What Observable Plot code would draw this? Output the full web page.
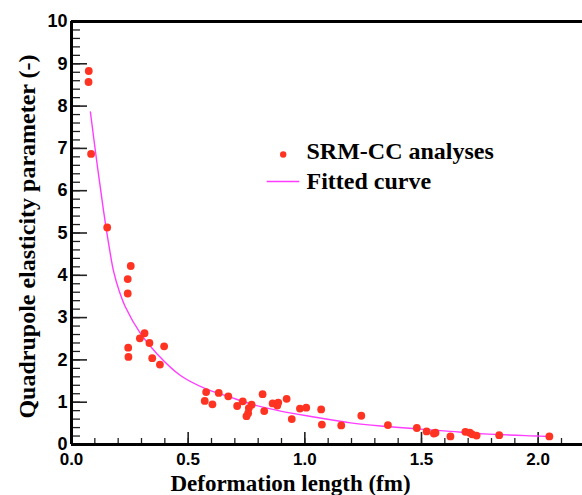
<!DOCTYPE html>
<html>
<head>
<meta charset="utf-8">
<script src="https://cdn.jsdelivr.net/npm/d3@7"></script>
<script src="https://cdn.jsdelivr.net/npm/@observablehq/plot@0.6"></script>
<style>
  html, body { margin: 0; padding: 0; background: #fff; }
</style>
</head>
<body>
<div id="chart"></div>
<script>
// SRM-CC analyses (deformation length fm, quadrupole elasticity parameter)
const pointX = [0.074, 0.073, 0.084, 0.153, 0.254, 0.241, 0.241, 0.313, 0.293, 0.334, 0.397, 0.243, 0.244, 0.346, 0.379,
  0.577, 0.571, 0.604, 0.631, 0.672, 0.710, 0.734, 0.772, 0.760, 0.757, 0.750, 0.819, 0.826, 0.862, 0.886, 0.882, 0.922,
  0.944, 0.979, 1.006, 1.070, 1.073, 1.156, 1.242, 1.356, 1.480, 1.522, 1.553, 1.560, 1.624, 1.688, 1.707, 1.717, 1.736,
  1.833, 2.048];
const pointY = [8.83, 8.57, 6.87, 5.13, 4.22, 3.91, 3.57, 2.63, 2.51, 2.40, 2.32, 2.29, 2.07, 2.04, 1.89,
  1.24, 1.03, 0.95, 1.22, 1.14, 0.91, 1.02, 0.94, 0.86, 0.74, 0.67, 1.19, 0.79, 0.97, 0.99, 0.92, 1.08,
  0.60, 0.85, 0.87, 0.83, 0.47, 0.45, 0.68, 0.46, 0.39, 0.31, 0.26, 0.28, 0.19, 0.30, 0.28, 0.24, 0.21,
  0.22, 0.19];

// Fitted curve
const curveX = [0.081, 0.110, 0.138, 0.163, 0.181, 0.205, 0.231, 0.296, 0.367, 0.467, 0.574, 0.681, 0.767, 0.896, 1.039,
  1.196, 1.339, 1.482, 1.624, 1.767, 1.996, 2.045];
const curveY = [7.86, 6.62, 5.50, 4.62, 4.08, 3.62, 3.25, 2.62, 2.14, 1.63, 1.32, 1.12, 0.96, 0.79, 0.65,
  0.51, 0.43, 0.37, 0.31, 0.25, 0.20, 0.19];

const xMajor = [0, 0.5, 1.0, 1.5, 2.0];
const xMinor = d3.range(0, 22).map(i => i / 10);
const xTickLabels = ["0.0", "0.5", "1.0", "1.5", "2.0"];
const yMajor = d3.range(0, 11);
const yMinor = d3.range(0, 51).map(i => i / 5);
const yTickLabels = yMajor.map(String);

const xTitle = "Deformation length (fm)";
const yTitle = "Quadrupole elasticity parameter (-)";
const legendLabels = ["SRM-CC analyses", "Fitted curve"];

const points = pointX.map((x, i) => ({x, y: pointY[i]}));
const curve = curveX.map((x, i) => ({x, y: curveY[i]}));

const W = 582, H = 495;
const mL = 71, mT = 21, mB = 51, mR = 0;
const plotW = W - mL - mR, plotH = H - mT - mB;
const xMax = 2.19;

const sans = "'Liberation Sans', Arial, Helvetica, sans-serif";
const serif = "'Liberation Serif', 'Times New Roman', serif";
const dotColor = "#ff3322";
const lineColor = "#ff3cff";

const chart = Plot.plot({
  width: W,
  height: H,
  marginLeft: mL,
  marginTop: mT,
  marginBottom: mB,
  marginRight: mR,
  x: {domain: [0, xMax], axis: null},
  y: {domain: [0, 10], axis: null},
  style: {background: "#fff", overflow: "visible"},
  marks: [
    // minor & major ticks on x (pointing up into the plot)
    Plot.ruleX(xMinor, {x: d => d, y1: 10, y2: 0, insetTop: plotH - 6, stroke: "#222", strokeWidth: 1.3}),
    Plot.ruleX(xMajor, {x: d => d, y1: 10, y2: 0, insetTop: plotH - 12, stroke: "#222", strokeWidth: 1.6}),
    // minor & major ticks on y (pointing right)
    Plot.ruleY(yMinor, {y: d => d, x1: 0, x2: xMax, insetRight: plotW - 9, stroke: "#222", strokeWidth: 1.3}),
    Plot.ruleY(yMajor, {y: d => d, x1: 0, x2: xMax, insetRight: plotW - 16, stroke: "#222", strokeWidth: 1.6}),
    // frame lines
    Plot.ruleX([0], {stroke: "#000", strokeWidth: 3}),
    Plot.ruleY([0], {stroke: "#000", strokeWidth: 3}),
    Plot.ruleY([10], {stroke: "#000", strokeWidth: 3}),
    // tick labels
    Plot.text(yMajor, {x: 0, y: d => d, text: (d, i) => yTickLabels[i], textAnchor: "end", dx: -4, lineAnchor: "middle",
      fontSize: 18, fontWeight: "bold", fontFamily: sans, fill: "#000"}),
    Plot.text(xMajor, {x: d => d, y: 0, text: (d, i) => xTickLabels[i], textAnchor: "middle", dy: 8, lineAnchor: "top",
      fontSize: 17, fontWeight: "bold", fontFamily: sans, fill: "#000"}),
    // data
    Plot.line(curve, {x: "x", y: "y", stroke: lineColor, strokeWidth: 1.4, curve: "catmull-rom"}),
    Plot.dot(points, {x: "x", y: "y", r: 3.9, fill: dotColor, stroke: "none"}),
    // axis titles
    Plot.text([xTitle], {frameAnchor: "bottom-left", dx: 290 - mL, dy: 46, textAnchor: "middle", lineAnchor: "bottom",
      fontSize: 23, fontWeight: "bold", fontFamily: serif, fill: "#000"}),
    Plot.text([yTitle], {frameAnchor: "top-left", dx: 34 - mL, dy: 236 - mT, rotate: -90, textAnchor: "middle", lineAnchor: "bottom",
      fontSize: 24, fontWeight: "bold", fontFamily: serif, fill: "#000"}),
    // legend
    Plot.dot([0], {frameAnchor: "top-left", dx: 282.7 - mL, dy: 154 - mT, r: 3.2, fill: dotColor, stroke: "none"}),
    Plot.text([legendLabels[0]], {frameAnchor: "top-left", dx: 306 - mL, dy: 158.5 - mT, textAnchor: "start", lineAnchor: "bottom",
      fontSize: 24, fontWeight: "bold", fontFamily: serif, fill: "#000"}),
    Plot.ruleY([0], {x1: (266.7 - mL) / (plotW / xMax), x2: (299.3 - mL) / (plotW / xMax), y: (444 - 181) / 42.3,
      stroke: lineColor, strokeWidth: 1.4}),
    Plot.text([legendLabels[1]], {frameAnchor: "top-left", dx: 306 - mL, dy: 188.5 - mT, textAnchor: "start", lineAnchor: "bottom",
      fontSize: 24, fontWeight: "bold", fontFamily: serif, fill: "#000"})
  ]
});
document.getElementById("chart").appendChild(chart);
</script>
</body>
</html>
